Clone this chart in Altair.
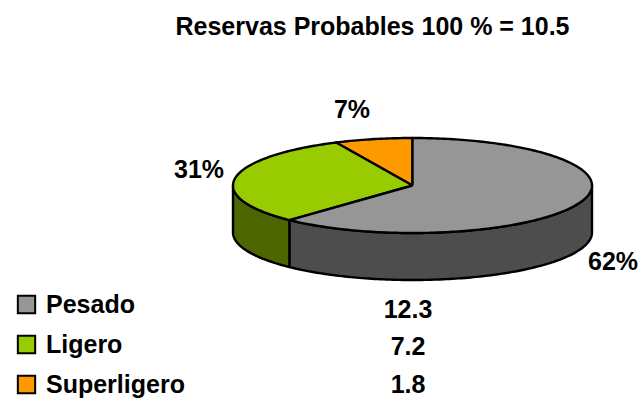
import math
import altair as alt
import pandas as pd

names = ["Pesado", "Ligero", "Superligero"]
shares = [62, 31, 7]
reserves = ["12.3", "7.2", "1.8"]
top_colors = ["#969696", "#99cc00", "#ff9900"]
side_colors = ["#4d4d4d", "#4d6600", "#805000"]
FONT = "Liberation Sans"
FONT_SIZE = 25

# Ellipse geometry of the tilted disc, in canvas units
CX, CY, RX, RY, DEPTH = 412.5, 185.5, 179.5, 47.5, 47
TOP = 50


def rim(t):
    """Point on the top rim; t is degrees counter-clockwise from 12 o'clock."""
    a = math.radians(t)
    return CX - RX * math.sin(a), CY - RY * math.cos(a)


# Slices run counter-clockwise from the top: smallest first
order = [2, 1, 0]
spans = {}
start = 0
for k in order:
    spans[k] = (start, start + shares[k] * 3.6)
    start += shares[k] * 3.6

top_rows, side_rows = [], []
for k, (a, b) in spans.items():
    n = max(2, int(b - a))
    arc = [a + (b - a) * i / n for i in range(n + 1)]
    pts = [(CX, CY)] + [rim(t) for t in arc] + [(CX, CY)]
    for i, (x, y) in enumerate(pts):
        top_rows.append({"name": names[k], "i": i, "x": x, "y": y})
    # Only the part of the wall facing the viewer (90..270 degrees) is drawn
    lo, hi = max(a, 90), min(b, 270)
    if lo < hi:
        m = max(2, int(hi - lo))
        wall = [lo + (hi - lo) * i / m for i in range(m + 1)]
        upper = [rim(t) for t in wall]
        lower = [(x, y + DEPTH) for x, y in reversed(upper)]
        ring = upper + lower + upper[:1]
        for i, (x, y) in enumerate(ring):
            side_rows.append({"name": names[k] + " lado", "i": i, "x": x, "y": y})

x_scale = alt.Scale(domain=[0, 641], range=[0, 641], nice=False, zero=False)
y_scale = alt.Scale(domain=[TOP, 401], range=[0, 401 - TOP], nice=False, zero=False)
x_enc = alt.X("x:Q", scale=x_scale, axis=None)
y_enc = alt.Y("y:Q", scale=y_scale, axis=None)

sides = (
    alt.Chart(pd.DataFrame(side_rows))
    .mark_line(stroke="black", strokeWidth=2.4, strokeJoin="round")
    .encode(
        x=x_enc,
        y=y_enc,
        order="i:Q",
        fill=alt.Fill(
            "name:N",
            scale=alt.Scale(
                domain=[n + " lado" for n in names],
                range=side_colors,
            ),
            legend=None,
        ),
    )
)

tops = (
    alt.Chart(pd.DataFrame(top_rows))
    .mark_line(stroke="black", strokeWidth=2.4, strokeJoin="round")
    .encode(
        x=x_enc,
        y=y_enc,
        order="i:Q",
        fill=alt.Fill(
            "name:N",
            scale=alt.Scale(domain=names, range=top_colors),
            legend=alt.Legend(
                title=None,
                orient="none",
                legendX=14,
                legendY=242,
                symbolType="square",
                symbolSize=300,
                symbolStrokeColor="black",
                symbolStrokeWidth=2,
                labelFont=FONT,
                labelFontWeight="bold",
                labelFontSize=FONT_SIZE,
                labelColor="black",
                labelOffset=7,
                rowPadding=13,
                labelLimit=300,
            ),
        ),
    )
)

pct_pos = {"Pesado": (613, 262), "Ligero": (199, 170), "Superligero": (352, 110)}
pct_df = pd.DataFrame(
    {
        "name": names,
        "label": [f"{s}%" for s in shares],
        "x": [pct_pos[n][0] for n in names],
        "y": [pct_pos[n][1] for n in names],
    }
)
pct = (
    alt.Chart(pct_df)
    .mark_text(
        font=FONT,
        fontWeight="bold",
        fontSize=FONT_SIZE,
        color="black",
        align="center",
        baseline="middle",
    )
    .encode(x=x_enc, y=y_enc, text="label:N")
)

val_df = pd.DataFrame(
    {"label": reserves, "x": [408] * 3, "y": [310, 347, 385]}
)
vals = (
    alt.Chart(val_df)
    .mark_text(
        font=FONT,
        fontWeight="bold",
        fontSize=FONT_SIZE,
        color="black",
        align="center",
        baseline="middle",
    )
    .encode(x=x_enc, y=y_enc, text="label:N")
)

chart = (
    alt.layer(sides, tops, pct, vals)
    .resolve_scale(fill="independent")
    .properties(
        width=641,
        height=401 - TOP,
        padding={"left": 0, "right": 0, "top": TOP, "bottom": 0},
        autosize=alt.AutoSizeParams(type="none"),
        title=alt.TitleParams(
            "Reservas Probables 100 % = 10.5",
            font=FONT,
            fontWeight="bold",
            fontSize=FONT_SIZE,
            color="black",
            anchor="middle",
            dx=52,
            offset=10,
        ),
    )
    .configure_view(stroke=None)
)

chart.save("out.html", embed_options={"renderer": "svg", "actions": False})
